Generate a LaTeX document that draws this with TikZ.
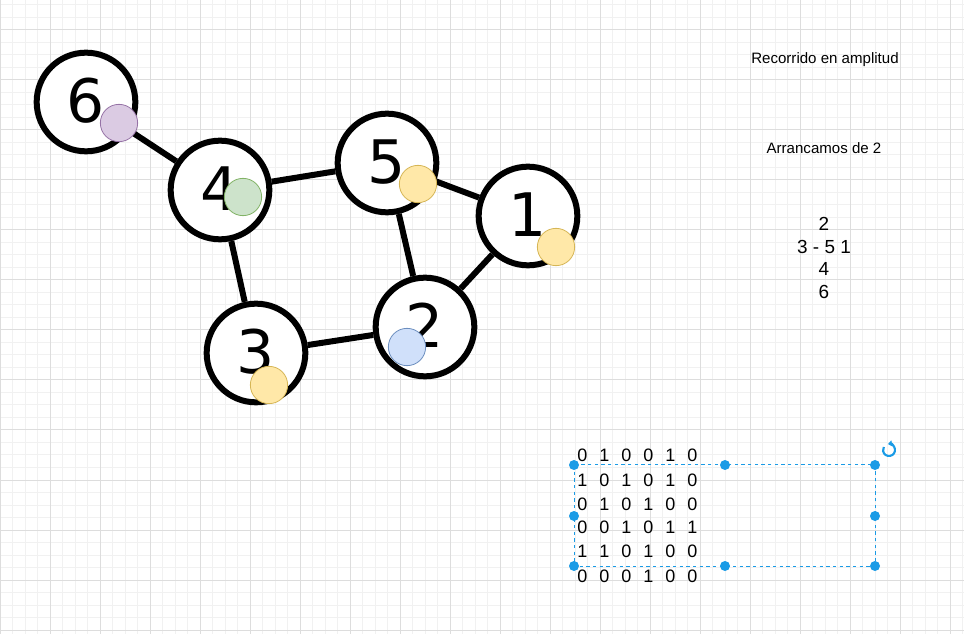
\documentclass[tikz,border=0pt]{standalone}
\usepackage{fontspec}
\setmainfont{Liberation Sans}
\newfontfamily\dejavu{DejaVu Sans}
\usetikzlibrary{arrows.meta}

\definecolor{amarillo}{HTML}{FFE8A8}
\definecolor{amarilloB}{HTML}{D6B656}
\definecolor{verde}{HTML}{CDE3CB}
\definecolor{verdeB}{HTML}{82B366}
\definecolor{azul}{HTML}{D0E0FA}
\definecolor{azulB}{HTML}{6C8EBF}
\definecolor{lila}{HTML}{DBCBE3}
\definecolor{lilaB}{HTML}{9673A6}
\definecolor{selec}{HTML}{1A9BE6}
\definecolor{rejilla}{HTML}{F1F1F1}
\definecolor{rejillaM}{HTML}{DDDDDD}

\tikzset{
  vertice/.style={circle, draw=black, line width=4.5pt, fill=white,
    minimum size=74pt, inner sep=0pt, text depth=0.2em,
    font=\dejavu\fontsize{45}{45}\selectfont},
  arista/.style={line width=4.5pt},
  marca/.style={circle, line width=0.6pt, minimum size=28pt, inner sep=0pt},
  asa/.style={circle, fill=selec, minimum size=7.5pt, inner sep=0pt},
  texto/.style={align=center, inner sep=0pt},
}

\begin{document}
\begin{tikzpicture}[x=0.75pt, y=-0.75pt]
\useasboundingbox (0,0) rectangle (964,634);
\fill[white] (0,0) rectangle (964,634);
% grid
\foreach \x in {0,12.5,...,962.5} \draw[rejilla, line width=0.75pt] (\x,0) -- (\x,634);
\foreach \y in {5,17.5,...,630} \draw[rejilla, line width=0.75pt] (0,\y) -- (964,\y);
\foreach \x in {0,50,...,950} \draw[rejillaM, line width=0.75pt] (\x,0) -- (\x,634);
\foreach \y in {30,80,...,630} \draw[rejillaM, line width=0.75pt] (0,\y) -- (964,\y);

% graph
\node[vertice] (v6) at (86,102) {6};
\node[vertice] (v4) at (220,190) {4};
\node[vertice] (v5) at (387,163) {5};
\node[vertice] (v1) at (528,216) {1};
\node[vertice] (v2) at (425,327) {2};
\node[vertice] (v3) at (256,353) {3};

\draw[arista] (v6) -- (v4);
\draw[arista] (v4) -- (v5);
\draw[arista] (v4) -- (v3);
\draw[arista] (v5) -- (v1);
\draw[arista] (v5) -- (v2);
\draw[arista] (v1) -- (v2);
\draw[arista] (v3) -- (v2);

\node[marca, fill=lila, draw=lilaB] (m6) at (119,123) {};
\node[marca, fill=verde, draw=verdeB] (m4) at (243,197) {};
\node[marca, fill=amarillo, draw=amarilloB] (m5) at (418,184) {};
\node[marca, fill=amarillo, draw=amarilloB] (m1) at (556,247) {};
\node[marca, fill=azul, draw=azulB] (m2) at (407,347) {};
\node[marca, fill=amarillo, draw=amarilloB] (m3) at (269,385) {};

% notes
\node[texto, font=\fontsize{11.3}{13}\selectfont] (titulo) at (825,60) {Recorrido en amplitud};
\node[texto, font=\fontsize{11.3}{13}\selectfont] (inicio) at (824,148) {Arrancamos de 2};
\node[texto, font=\fontsize{14.2}{16.9}\selectfont] (orden) at (824,258) {2\\3 - 5 1\\4\\6};

% matrix
\node[anchor=base west, inner sep=0pt, font=\fontsize{13.5}{18}\selectfont] (matriz) at (577,462) {%
  \setlength{\tabcolsep}{4.5pt}%
  \begin{tabular}[t]{@{}cccccc@{}}
  0 & 1 & 0 & 0 & 1 & 0\\
  1 & 0 & 1 & 0 & 1 & 0\\
  0 & 1 & 0 & 1 & 0 & 0\\
  0 & 0 & 1 & 0 & 1 & 1\\
  1 & 1 & 0 & 1 & 0 & 0\\
  0 & 0 & 0 & 1 & 0 & 0
  \end{tabular}};

% selection
\coordinate (s1) at (574,465);
\coordinate (s2) at (875,566);
\draw[selec, line width=0.75pt, dash pattern=on 2.5pt off 2.5pt] (s1) rectangle (s2);
\foreach \n/\p in {a/{574,465}, b/{725,465}, c/{875,465}, d/{574,516},
                   e/{875,516}, f/{574,566}, g/{725,566}, h/{875,566}}
  \node[asa] (asa\n) at (\p) {};
\coordinate (giro) at (889,450);
\draw[selec, line width=1.6pt, {Triangle[length=3pt, width=4.5pt]}-]
  ([shift={(-100:6)}]giro) arc[start angle=-100, end angle=210, radius=6];
\end{tikzpicture}
\end{document}
